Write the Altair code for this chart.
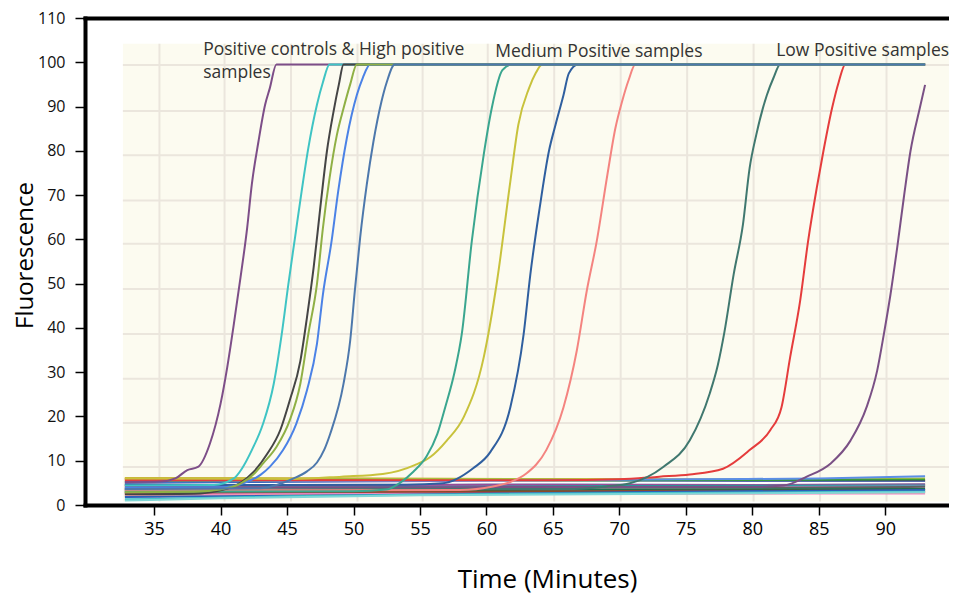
import altair as alt
import pandas as pd

# ---------------- axis / panel values ----------------
x_ticks = [35, 40, 45, 50, 55, 60, 65, 70, 75, 80, 85, 90]
y_ticks = [0, 10, 20, 30, 40, 50, 60, 70, 80, 90, 100, 110]
x_domain = [29.8, 94.8]
y_domain = [0, 110]
inner_grid_t = [35.4, 40.3, 45.3, 50.3, 55.2, 60.1, 65.1, 70.1, 75.1, 80.1, 85.1, 90.1]
inner_grid_v = [8.6, 18.5, 28.5, 38.6, 48.8, 59.0, 68.8, 79.0, 89.0, 99.4]
panel_t = [32.65, 94.8]
panel_v = [0.8, 104.2]

# ---------------- baseline (negative / flat) traces ----------------
bl_orange_t = [32.8, 50, 70, 93.0];        bl_orange_v = [6.1, 6.0, 5.8, 5.6]
bl_red_t = [32.8, 60, 80, 93.0];           bl_red_v = [5.8, 5.7, 5.6, 5.5]
bl_yellowgreen_t = [32.8, 60, 80, 93.0];   bl_yellowgreen_v = [6.0, 5.9, 5.7, 6.0]
bl_green_t = [32.8, 50, 70, 93.0];         bl_green_v = [5.3, 5.4, 5.5, 5.7]
bl_lightblue_t = [32.8, 55, 75, 85, 93.0]; bl_lightblue_v = [5.0, 5.3, 5.8, 6.0, 6.5]
bl_navy_t = [32.8, 60, 80, 93.0];          bl_navy_v = [4.8, 4.9, 5.2, 5.3]
bl_white_t = [32.8, 60, 93.0];             bl_white_v = [4.6, 5.0, 5.0]
bl_purple_t = [32.8, 60, 80, 93.0];        bl_purple_v = [4.5, 4.6, 4.5, 4.7]
bl_magenta_t = [32.8, 60, 93.0];           bl_magenta_v = [4.3, 4.4, 4.5]
bl_teal_t = [32.8, 50, 70, 93.0];          bl_teal_v = [3.8, 4.0, 4.3, 4.4]
bl_lavender_t = [32.8, 60, 93.0];          bl_lavender_v = [3.6, 3.9, 4.2]
bl_darkgray_t = [32.8, 60, 80, 93.0];      bl_darkgray_v = [3.4, 3.6, 3.9, 4.1]
bl_gray_t = [32.8, 60, 80, 93.0];          bl_gray_v = [3.2, 3.5, 3.6, 3.6]
bl_darkgreen_t = [32.8, 55, 75, 93.0];     bl_darkgreen_v = [2.9, 3.3, 3.5, 3.6]
bl_darkred_t = [32.8, 60, 93.0];           bl_darkred_v = [2.8, 2.9, 3.0]
bl_brown_t = [32.8, 55, 75, 93.0];         bl_brown_v = [2.6, 3.0, 3.2, 3.3]
bl_pink_t = [32.8, 50, 70, 93.0];          bl_pink_v = [2.3, 2.5, 2.6, 2.6]
bl_salmon_t = [32.8, 55, 93.0];            bl_salmon_v = [2.0, 2.4, 2.8]
bl_blue_t = [32.8, 50, 70, 93.0];          bl_blue_v = [1.8, 2.2, 2.9, 3.4]
bl_cyan_t = [32.8, 36, 45, 65, 93.0];      bl_cyan_v = [1.3, 1.4, 2.0, 2.6, 3.0]
bl_lightcyan_t = [32.8, 40, 55, 93.0];     bl_lightcyan_v = [1.0, 1.5, 2.2, 2.9]

# ---------------- low positive samples ----------------
lp_purple_t = [32.8, 80, 82.35, 84.1, 85.9, 87.4, 88.6, 89.4, 89.9, 90.4, 90.9, 91.4, 91.9, 92.6, 93.0]
lp_purple_v = [4.0, 4.1, 4.4, 6.4, 9.4, 14.6, 22.1, 30.4, 38.6, 47.6, 58.1, 69.4, 79.9, 89.6, 94.9]
lp_red_t = [32.8, 65, 70, 73, 75.3, 77.8, 79.8, 81.35, 82.2, 82.85, 83.6, 84.2, 84.85, 85.35, 86.0, 86.5, 87.0, 93.0]
lp_red_v = [5.6, 5.6, 5.8, 6.4, 6.9, 8.2, 12.4, 16.9, 22.1, 33.4, 46.1, 59.6, 71.6, 79.9, 89.6, 95.5, 99.5, 99.5]
lp_darkteal_t = [32.8, 66, 69, 70.8, 73.3, 75.3, 76.8, 77.4, 77.9, 78.6, 79.3, 79.8, 80.3, 81.1, 81.6, 82.1, 93.0]
lp_darkteal_v = [3.5, 3.6, 4.2, 4.9, 8.6, 14.6, 25.2, 31.5, 39.0, 52.1, 63.4, 76.1, 83.6, 92.6, 96.5, 99.5, 99.5]

# ---------------- medium positive samples ----------------
mp_salmon_t = [32.8, 58, 60.5, 61.8, 63.0, 64.5, 65.8, 66.8, 67.55, 68.3, 69.1, 69.7, 70.2, 70.7, 71.2, 93.0]
mp_salmon_v = [3.3, 3.4, 4.2, 5.2, 7.1, 12.4, 22.1, 34.9, 48.4, 59.6, 74.6, 85.1, 91.1, 96.0, 99.5, 99.5]
mp_darkblue_t = [32.8, 54, 56.7, 59.0, 60.3, 61.8, 62.8, 63.3, 64.0, 64.7, 65.2, 65.8, 66.2, 66.9, 93.0]
mp_darkblue_v = [4.5, 4.6, 4.9, 8.3, 12.0, 22.1, 38.6, 52.0, 67.0, 79.9, 85.9, 92.6, 97.5, 99.5, 99.5]
mp_yellow_t = [32.8, 45.5, 49.1, 52.2, 54.6, 55.8, 57.0, 58.3, 59.8, 60.8, 61.8, 62.4, 63.2, 63.7, 64.2, 93.0]
mp_yellow_v = [6.0, 5.9, 6.4, 7.0, 9.0, 10.9, 14.5, 19.9, 33.4, 50.6, 73.1, 85.9, 94.1, 97.5, 99.5, 99.5]
mp_teal_t = [32.8, 50, 52.5, 53.5, 54.5, 55.5, 56.3, 56.9, 57.6, 58.15, 58.9, 59.8, 60.4, 61.2, 61.9, 93.0]
mp_teal_v = [3.0, 3.1, 3.5, 5.0, 7.5, 11.0, 16.0, 22.1, 30.0, 38.7, 59.6, 79.2, 89.6, 98.2, 99.5, 99.5]

# ---------------- positive controls & high positive samples ----------------
hp_purple_t = [32.8, 35.5, 36.6, 37.5, 38.3, 39.2, 40.0, 40.5, 41.0, 41.5, 42.0, 42.35, 42.85, 43.35, 43.7, 44.2, 93.0]
hp_purple_v = [5.2, 5.3, 6.0, 7.9, 8.6, 13.9, 22.9, 31.1, 40.9, 51.4, 62.6, 72.4, 82.1, 90.4, 94.1, 99.5, 99.5]
hp_cyan_t = [32.8, 39.5, 41.0, 41.6, 42.35, 43.2, 44.0, 44.6, 45.1, 45.6, 46.1, 46.6, 47.25, 47.7, 48.2, 93.0]
hp_cyan_v = [4.4, 4.5, 6.0, 8.2, 12.4, 18.4, 27.4, 38.6, 49.9, 60.4, 70.9, 80.6, 90.4, 95.5, 99.5, 99.5]
hp_black_t = [32.8, 38.5, 40.0, 41.5, 42.5, 43.5, 44.5, 45.2, 46.0, 46.5, 47.0, 47.5, 48.0, 48.5, 48.9, 49.25, 93.0]
hp_black_v = [2.4, 2.6, 3.3, 5.0, 7.5, 11.5, 17.0, 23.6, 32.5, 42.4, 53.6, 67.1, 79.9, 88.9, 95.0, 99.5, 99.5]
hp_blue_t = [32.8, 40, 41.8, 43.0, 43.7, 44.7, 45.7, 46.5, 47.25, 47.7, 48.35, 48.85, 49.5, 50.25, 50.7, 51.25, 93.0]
hp_blue_v = [3.9, 4.0, 5.0, 6.8, 8.6, 12.4, 18.4, 25.9, 36.4, 47.6, 59.6, 70.9, 82.9, 92.6, 96.5, 99.5, 99.5]
hp_olive_t = [32.8, 38, 40, 41.5, 42.5, 43.2, 44.2, 45.2, 46.0, 46.6, 47.25, 47.7, 48.2, 48.75, 49.25, 49.75, 50.25, 93.0]
hp_olive_v = [2.9, 3.0, 3.5, 4.8, 7.0, 9.4, 13.1, 19.1, 27.4, 38.6, 49.9, 62.6, 73.9, 83.6, 89.6, 95.0, 99.5, 99.5]
hp_slate_t = [32.8, 43, 44.5, 45.5, 46.5, 47.25, 47.8, 48.25, 49.25, 49.75, 50.1, 50.5, 51.0, 51.5, 52.1, 52.5, 53.1, 93.0]
hp_slate_v = [3.6, 3.8, 4.8, 6.0, 7.6, 9.6, 12.5, 16.1, 27.4, 37.1, 48.4, 60.4, 72.4, 82.1, 91.1, 95.5, 99.5, 99.5]

# drawing order: first = bottom
series_list = [
    ("orange", "#f0a030", bl_orange_t, bl_orange_v),
    ("red", "#e03c31", bl_red_t, bl_red_v),
    ("yellowgreen", "#a8c040", bl_yellowgreen_t, bl_yellowgreen_v),
    ("green", "#3a9a3a", bl_green_t, bl_green_v),
    ("lightblue", "#5b8ee6", bl_lightblue_t, bl_lightblue_v),
    ("navy", "#1f3a93", bl_navy_t, bl_navy_v),
    ("white", "#ffffff", bl_white_t, bl_white_v),
    ("purple", "#7d4f8f", bl_purple_t, bl_purple_v),
    ("magenta", "#b04aa0", bl_magenta_t, bl_magenta_v),
    ("teal", "#1f9e9e", bl_teal_t, bl_teal_v),
    ("lavender", "#b090d0", bl_lavender_t, bl_lavender_v),
    ("darkgray", "#606060", bl_darkgray_t, bl_darkgray_v),
    ("gray", "#9a9a9a", bl_gray_t, bl_gray_v),
    ("darkgreen", "#1e6e50", bl_darkgreen_t, bl_darkgreen_v),
    ("darkred", "#a02030", bl_darkred_t, bl_darkred_v),
    ("brown", "#8b4a2b", bl_brown_t, bl_brown_v),
    ("pink", "#f080c8", bl_pink_t, bl_pink_v),
    ("salmon", "#f4a0a0", bl_salmon_t, bl_salmon_v),
    ("blue", "#2e5fb8", bl_blue_t, bl_blue_v),
    ("cyan", "#3cc0c8", bl_cyan_t, bl_cyan_v),
    ("lightcyan", "#7fd6d6", bl_lightcyan_t, bl_lightcyan_v),
    ("lp_purple", "#7a5085", lp_purple_t, lp_purple_v),
    ("lp_red", "#e53c3c", lp_red_t, lp_red_v),
    ("lp_darkteal", "#40786f", lp_darkteal_t, lp_darkteal_v),
    ("mp_salmon", "#f48480", mp_salmon_t, mp_salmon_v),
    ("mp_darkblue", "#2f5f9f", mp_darkblue_t, mp_darkblue_v),
    ("mp_yellow", "#c8c23c", mp_yellow_t, mp_yellow_v),
    ("mp_teal", "#3aa68f", mp_teal_t, mp_teal_v),
    ("hp_purple", "#7d4e88", hp_purple_t, hp_purple_v),
    ("hp_cyan", "#3fc4c4", hp_cyan_t, hp_cyan_v),
    ("hp_black", "#454545", hp_black_t, hp_black_v),
    ("hp_blue", "#4b82e6", hp_blue_t, hp_blue_v),
    ("hp_olive", "#8fb045", hp_olive_t, hp_olive_v),
    ("hp_slate", "#4d78ac", hp_slate_t, hp_slate_v),
]

ann_text = ["Positive controls & High positive\nsamples", "Medium Positive samples", "Low Positive samples"]
ann_t = [38.69, 60.66, 81.8]
ann_v = [101.7, 101.2, 101.4]

# ---------------- build tables ----------------
rows = []
keys, colors = [], []
for i, (name, col, ts, vs) in enumerate(series_list):
    key = f"{i:02d}_{name}"
    keys.append(key)
    colors.append(col)
    for t, v in zip(ts, vs):
        rows.append({"series": key, "t": t, "v": v})
lines_df = pd.DataFrame(rows)

panel_df = pd.DataFrame([{"t0": panel_t[0], "t1": panel_t[1], "v0": panel_v[0], "v1": panel_v[1]}])
vgrid_df = pd.DataFrame({"t": inner_grid_t, "v0": panel_v[0], "v1": panel_v[1]})
hgrid_df = pd.DataFrame({"v": inner_grid_v, "t0": panel_t[0], "t1": panel_t[1]})
ann_df = pd.DataFrame({"t": ann_t, "v": ann_v, "label": ann_text})

xs = alt.Scale(domain=x_domain, nice=False, zero=False)
ys = alt.Scale(domain=y_domain, nice=False, zero=False)

xfont = '"Liberation Sans Narrow", "Open Sans", sans-serif'

top_axis = alt.Axis(orient="top", labels=False, ticks=False, title=None, grid=False,
                    domainColor="black", domainWidth=4, domainCap="square")
bottom_axis = alt.Axis(orient="bottom", values=x_ticks, grid=False, format="d",
                       tickSize=10, tickWidth=1.5, tickColor="black",
                       domainColor="black", domainWidth=4, domainCap="square",
                       labelFont=xfont, labelFontSize=18, labelColor="black", labelPadding=5,
                       labelFlush=False, labelOverlap=False,
                       title="Time (Minutes)", titleFont=xfont, titleFontSize=26,
                       titleFontWeight="normal", titleColor="black",
                       titleX=462, titleY=82, titleBaseline="alphabetic", titleAlign="center")
left_axis = alt.Axis(orient="left", values=y_ticks, grid=False, format="d",
                     tickSize=10, tickWidth=1.5, tickColor="black",
                     domainColor="black", domainWidth=4, domainCap="square",
                     labelFont="Open Sans", labelFontSize=16, labelColor="#111111", labelPadding=10,
                     labelFlush=False, labelOverlap=False,
                     title="Fluorescence", titleFont="Open Sans", titleFontSize=24,
                     titleFontWeight="normal", titleColor="black", titleAngle=270,
                     titleX=-60, titleY=237, titleBaseline="middle", titleAlign="center")

panel = alt.Chart(panel_df).mark_rect(color="#fcfbf0").encode(
    x=alt.X("t0:Q", scale=xs, axis=top_axis),
    x2="t1:Q",
    y=alt.Y("v0:Q", scale=ys, axis=left_axis),
    y2="v1:Q",
)
vgrid = alt.Chart(vgrid_df).mark_rule(color="#ebe6dd", strokeWidth=2).encode(
    x=alt.X("t:Q", scale=xs, axis=None),
    y=alt.Y("v0:Q", scale=ys, axis=left_axis),
    y2="v1:Q",
)
hgrid = alt.Chart(hgrid_df).mark_rule(color="#ebe6dd", strokeWidth=2).encode(
    y=alt.Y("v:Q", scale=ys, axis=left_axis),
    x=alt.X("t0:Q", scale=xs, axis=None),
    x2="t1:Q",
)
curves = alt.Chart(lines_df).mark_line(strokeWidth=2, interpolate="monotone").encode(
    x=alt.X("t:Q", scale=xs, axis=bottom_axis),
    y=alt.Y("v:Q", scale=ys, axis=left_axis),
    color=alt.Color("series:N", scale=alt.Scale(domain=keys, range=colors), legend=None),
)
labels = alt.Chart(ann_df).mark_text(align="left", baseline="alphabetic", font="Open Sans",
                                      fontSize=17.5, color="#333333",
                                      lineBreak="\n", lineHeight=23).encode(
    x=alt.X("t:Q", scale=xs, axis=None),
    y=alt.Y("v:Q", scale=ys, axis=left_axis),
    text="label:N",
)

chart = alt.layer(panel, vgrid, hgrid, curves, labels).resolve_axis(x="independent").properties(
    width=864, height=487,
    autosize=alt.AutoSizeParams(type="none"),
    padding={"left": 77, "top": 10, "right": 0, "bottom": 92},
    background="white",
).configure_view(stroke=None)

chart.save("out.html", embed_options={"renderer": "svg", "actions": False})
